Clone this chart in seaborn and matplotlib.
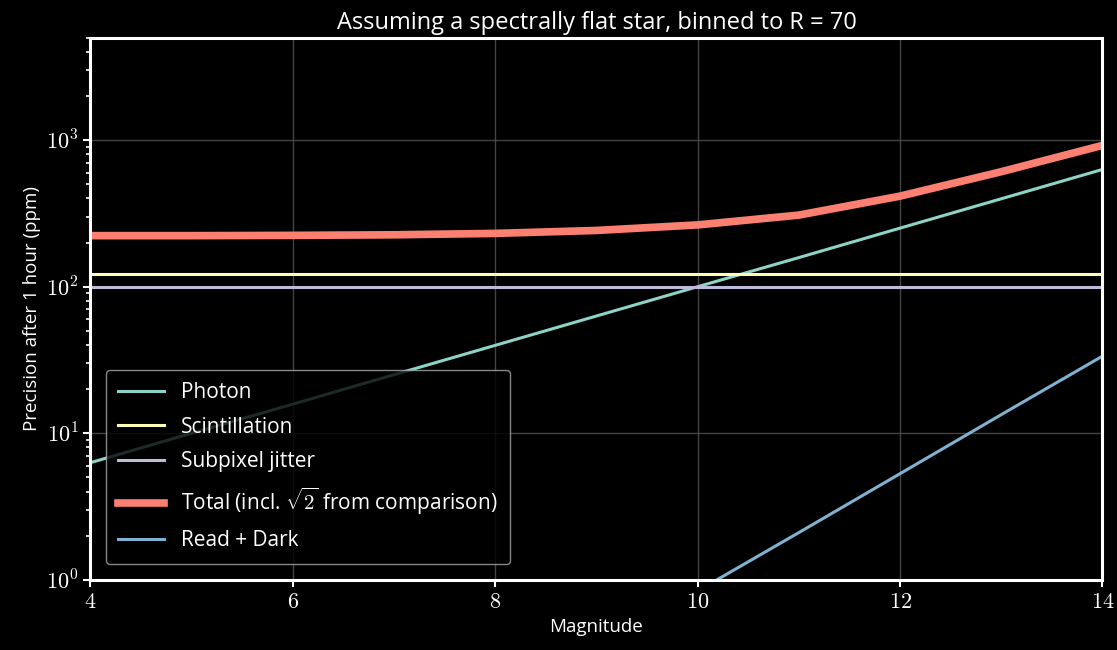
import matplotlib
matplotlib.use("Agg")
import matplotlib.pyplot as plt
import matplotlib.ticker as mticker
import numpy as np
import pandas as pd
import seaborn as sns

magnitude = [4, 5, 6, 7, 8, 9, 10, 11, 12, 13, 14]
photon = [6.3, 10.0, 15.8, 25.1, 39.8, 63.1, 100, 158, 251, 398, 631]
scintillation = [122] * 11
jitter = [100] * 11
total = [223, 223, 224, 226, 231, 242, 264, 308, 415, 609, 921]
read_dark = [0.0034, 0.0084, 0.021, 0.053, 0.134, 0.34, 0.84, 2.1, 5.3, 13.4, 33.6]

plt.style.use("dark_background")
plt.rcParams["mathtext.fontset"] = "cm"
plt.rcParams["font.family"] = ["Open Sans", "DejaVu Sans"]

fig, ax = plt.subplots(figsize=(11.17, 6.5), dpi=100)
fig.subplots_adjust(left=0.081, right=0.987, top=0.942, bottom=0.108)

pal = ["#8dd3c7", "#ffffb3", "#bebada", "#fb8072", "#80b1d3"]
series = [
    ("Photon", photon, 2.2),
    ("Scintillation", scintillation, 2.2),
    ("Subpixel jitter", jitter, 2.2),
    (r"Total (incl. $\sqrt{2}$ from comparison)", total, 5.5),
    ("Read + Dark", read_dark, 2.2),
]
for (name, vals, lw), c in zip(series, pal):
    sns.lineplot(x=magnitude, y=vals, ax=ax, color=c, lw=lw, label=name)

ax.set_yscale("log")
ax.set_xlim(4, 14)
ax.set_ylim(1, 5000)
ax.grid(True, which="major", color="#555555", lw=1.0, alpha=0.8)
ax.yaxis.set_major_formatter(mticker.FuncFormatter(lambda v, p: r"$10^{%d}$" % round(np.log10(v))))
ax.xaxis.set_major_formatter(mticker.FuncFormatter(lambda v, p: r"$%d$" % v))
ax.tick_params(labelsize=16, width=1.5, length=5)
ax.tick_params(which="minor", width=1.2, length=3)
for s in ax.spines.values():
    s.set_linewidth(2.2)
    s.set_color("white")

ax.set_xlabel("Magnitude", fontsize=13.5)
ax.set_ylabel("Precision after 1 hour (ppm)", fontsize=13.5)
ax.set_title("Assuming a spectrally flat star, binned to R = 70", fontsize=17)

leg = ax.legend(loc="lower left", fontsize=15, framealpha=0.8, borderpad=0.6,
                labelspacing=0.65, handlelength=2.2, bbox_to_anchor=(0.005, 0.01))
leg.get_frame().set_edgecolor("#aaaaaa")
leg.get_frame().set_facecolor("black")

fig.savefig("out.png", dpi=100)
